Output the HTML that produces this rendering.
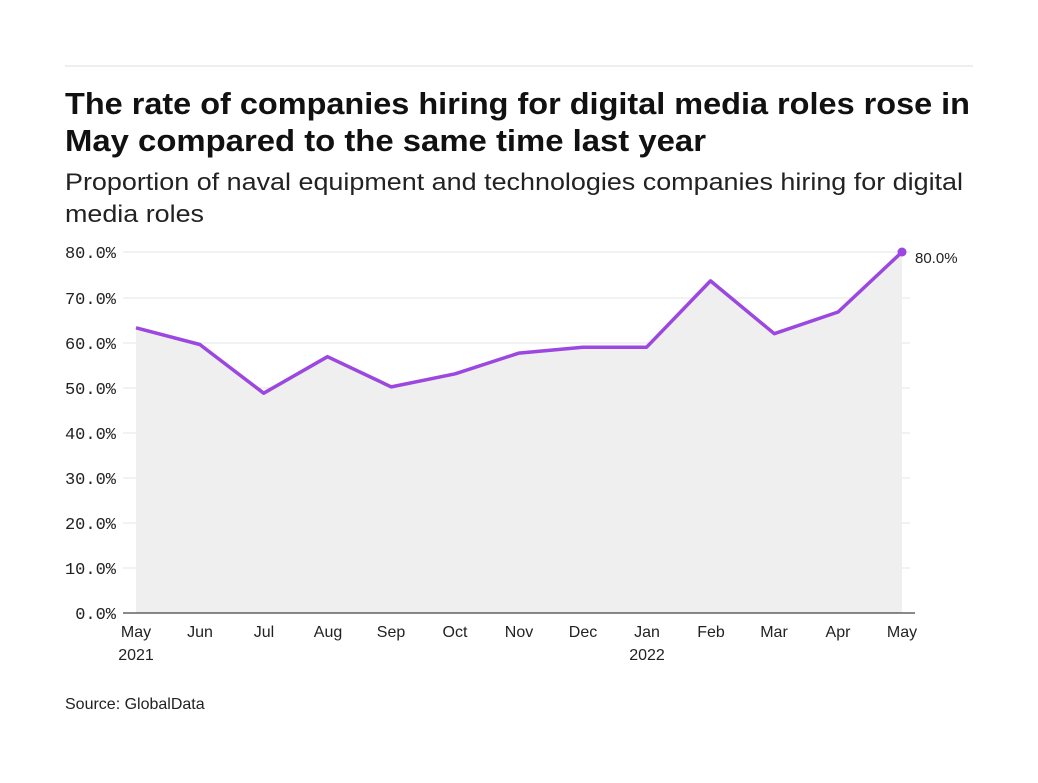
<!DOCTYPE html>
<html><head><meta charset="utf-8"><style>
body{margin:0;background:#fff;width:1038px;height:778px;overflow:hidden;font-family:"Liberation Sans",sans-serif;}
</style></head><body>
<svg width="1038" height="778" xmlns="http://www.w3.org/2000/svg">
<line x1="65" y1="66" x2="973" y2="66" stroke="#ddd" stroke-width="1"/>
<text x="65" y="114" font-size="31" font-weight="bold" fill="#111" textLength="905" lengthAdjust="spacingAndGlyphs">The rate of companies hiring for digital media roles rose in</text>
<text x="65" y="151" font-size="31" font-weight="bold" fill="#111" textLength="641" lengthAdjust="spacingAndGlyphs">May compared to the same time last year</text>
<text x="65" y="190" font-size="24" fill="#222" textLength="898" lengthAdjust="spacingAndGlyphs">Proportion of naval equipment and technologies companies hiring for digital</text>
<text x="65" y="222" font-size="24" fill="#222" textLength="139" lengthAdjust="spacingAndGlyphs">media roles</text>
<g stroke="#e4e4e4" stroke-width="1">
<line x1="123" x2="910" y1="252" y2="252"/><line x1="123" x2="910" y1="298" y2="298"/>
<line x1="123" x2="910" y1="343" y2="343"/><line x1="123" x2="910" y1="388" y2="388"/>
<line x1="123" x2="910" y1="433" y2="433"/><line x1="123" x2="910" y1="478" y2="478"/>
<line x1="123" x2="910" y1="523" y2="523"/><line x1="123" x2="910" y1="568" y2="568"/>
</g>
<polygon fill="#efefef" points="136,613 136,327.8 199.8,344.5 263.7,393.2 327.5,356.7 391.3,386.9 455.2,373.8 519,353.1 582.8,347.2 646.6,347.2 710.5,280.9 774.3,333.7 838.1,312.0 902,252 902,613"/>
<polyline fill="none" stroke="#9b47e0" stroke-width="3.5" stroke-linejoin="round" points="136,327.8 199.8,344.5 263.7,393.2 327.5,356.7 391.3,386.9 455.2,373.8 519,353.1 582.8,347.2 646.6,347.2 710.5,280.9 774.3,333.7 838.1,312.0 902,252"/>
<circle cx="902" cy="252" r="4.5" fill="#9b47e0"/>
<text x="915" y="263" font-size="15" fill="#222">80.0%</text>
<line x1="123" x2="915" y1="613" y2="613" stroke="#444" stroke-width="1.3"/>
<g font-family="Liberation Mono, monospace" font-size="17" fill="#222" text-anchor="end">
<text x="116" y="258">80.0%</text><text x="116" y="304">70.0%</text><text x="116" y="349">60.0%</text>
<text x="116" y="394">50.0%</text><text x="116" y="439">40.0%</text><text x="116" y="484">30.0%</text>
<text x="116" y="529">20.0%</text><text x="116" y="574">10.0%</text><text x="116" y="619">0.0%</text>
</g>
<g font-size="16" fill="#222" text-anchor="middle">
<text x="136" y="637">May</text><text x="136" y="660">2021</text>
<text x="200" y="637">Jun</text><text x="264" y="637">Jul</text><text x="328" y="637">Aug</text>
<text x="391" y="637">Sep</text><text x="455" y="637">Oct</text><text x="519" y="637">Nov</text>
<text x="583" y="637">Dec</text><text x="647" y="637">Jan</text><text x="647" y="660">2022</text>
<text x="711" y="637">Feb</text><text x="774" y="637">Mar</text><text x="838" y="637">Apr</text>
<text x="902" y="637">May</text>
</g>
<text x="65" y="709" font-size="16" fill="#222">Source: GlobalData</text>
</svg>
</body></html>
